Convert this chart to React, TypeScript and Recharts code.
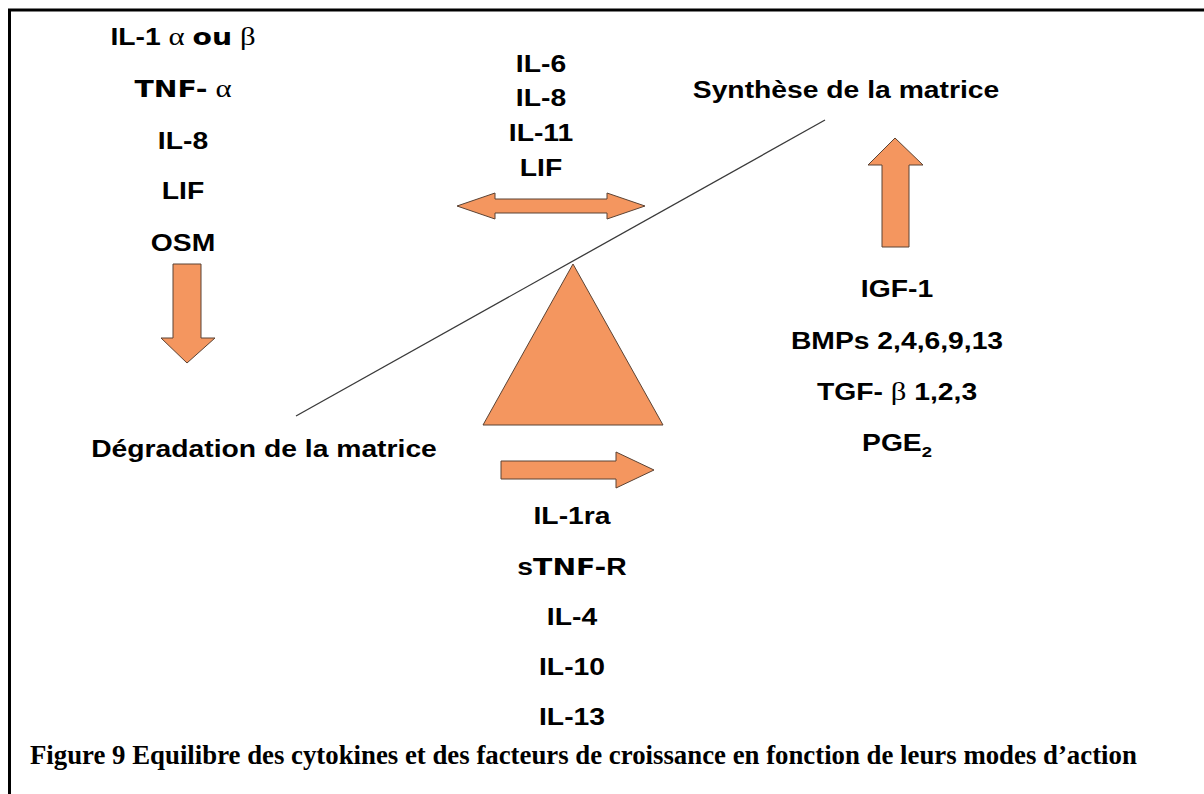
import { ComposedChart, XAxis, YAxis, Scatter, ReferenceLine } from 'recharts'

// diagram space = pixel grid of the reference (0..1204 x 0..794)
const W = 1204
const H = 794

// cytokine columns
const leftLabels = ['IL-1 α ou β', 'TNF- α', 'IL-8', 'LIF', 'OSM']
const leftY = [45, 97, 149, 199, 251]
const midTopLabels = ['IL-6', 'IL-8', 'IL-11', 'LIF']
const midTopY = [72, 106, 141, 176]
const rightLabels = ['IGF-1', 'BMPs 2,4,6,9,13', 'TGF- β 1,2,3', 'PGE_2']
const rightY = [297, 349, 400, 451]
const bottomLabels = ['IL-1ra', 'sTNF-R', 'IL-4', 'IL-10', 'IL-13']
const bottomY = [524, 575, 625, 675, 725]

const titles = ['Synthèse de la matrice', 'Dégradation de la matrice']
const titleX = [846, 264]
const titleY = [98, 457]

const caption = 'Figure 9 Equilibre des cytokines et des facteurs de croissance en fonction de leurs modes d’action'

// shapes (vertex lists, closed)
const triangle = [[573, 264], [483, 425], [663, 425], [573, 264]]
const downArrow = [[173, 264], [201, 264], [201, 338], [215, 338], [187, 363], [161, 338], [173, 338], [173, 264]]
const upArrow = [[895, 138], [923, 165], [909, 165], [909, 247], [882, 247], [882, 165], [868, 165], [895, 138]]
const rightArrow = [[501, 461], [616, 461], [616, 452], [654, 470], [616, 488], [616, 479], [501, 479], [501, 461]]
const doubleArrow = [
  [457, 206], [495, 193], [495, 199], [607, 199], [607, 193], [645, 206],
  [607, 219], [607, 213], [495, 213], [495, 219], [457, 206],
]
const balanceLine = [[296, 416], [825, 120]]

const ORANGE = '#F4965F'
const EDGE = '#5b4334'
const SANS = "'Liberation Sans', Arial, sans-serif"

const toPts = (v: number[][]) => v.map(([x, y]) => ({ x, y }))

const column = (labels: string[], x: number, ys: number[]) =>
  labels.map((t, i) => ({ x, y: ys[i], t }))

const rich = (s: string) =>
  s.split(/(α|β|ou|TNF-|_2)/).filter(Boolean).map((p, i) => {
    if (p === 'α' || p === 'β')
      return <tspan key={i} fontFamily="'Liberation Serif', serif" fontWeight="normal" fontSize={25}>{p}</tspan>
    if (p === 'ou' || p === 'TNF-')
      return <tspan key={i} fontFamily="'DejaVu Sans', sans-serif" fontWeight={900}>{p}</tspan>
    if (p === '_2')
      return <tspan key={i} fontSize={15} dy={6}>2</tspan>
    return <tspan key={i}>{p}</tspan>
  })

const Label = (props: any) => {
  const { cx, cy, payload } = props
  return (
    <text
      transform={`translate(${cx} ${cy}) scale(1.23 1)`}
      textAnchor="middle"
      fontFamily={SANS}
      fontWeight="bold"
      fontSize={23}
      fill="#000"
    >
      {rich(payload.t)}
    </text>
  )
}

const Caption = (props: any) => (
  <text
    x={props.cx}
    y={props.cy}
    fontFamily="'Liberation Serif', 'Times New Roman', serif"
    fontWeight="bold"
    fontSize={26.8}
    fill="#000"
  >
    {props.payload.t}
  </text>
)

const NoDot = () => <g />

const shapeLine = { fill: ORANGE, stroke: EDGE, strokeWidth: 1 }

export default function App() {
  const textData = [
    ...column(leftLabels, 183, leftY),
    ...column(midTopLabels, 541, midTopY),
    ...column(rightLabels, 897, rightY),
    ...column(bottomLabels, 572, bottomY),
    ...titles.map((t, i) => ({ x: titleX[i], y: titleY[i], t })),
  ]

  return (
    <div style={{ position: 'absolute', left: 0, top: 0, width: W, height: H, background: '#fff' }}>
      <ComposedChart width={W} height={H} margin={{ top: 0, right: 0, bottom: 0, left: 0 }}>
        <XAxis type="number" dataKey="x" domain={[0, W]} hide />
        <YAxis type="number" dataKey="y" domain={[0, H]} reversed hide />

        {/* frame */}
        <ReferenceLine segment={[{ x: 8, y: 10 }, { x: W, y: 10 }]} stroke="#000" strokeWidth={3} />
        <ReferenceLine segment={[{ x: 9.5, y: 9 }, { x: 9.5, y: H }]} stroke="#000" strokeWidth={3} />

        {/* balance beam */}
        <ReferenceLine
          segment={[
            { x: balanceLine[0][0], y: balanceLine[0][1] },
            { x: balanceLine[1][0], y: balanceLine[1][1] },
          ]}
          stroke="#3a3a3a"
          strokeWidth={1.3}
        />

        {[triangle, downArrow, upArrow, rightArrow, doubleArrow].map((v, i) => (
          <Scatter
            key={i}
            data={toPts(v)}
            line={shapeLine}
            lineType="joint"
            lineJointType="linear"
            shape={NoDot}
            isAnimationActive={false}
          />
        ))}

        <Scatter data={textData} shape={Label} isAnimationActive={false} />
        <Scatter data={[{ x: 30, y: 764, t: caption }]} shape={Caption} isAnimationActive={false} />
      </ComposedChart>
    </div>
  )
}
